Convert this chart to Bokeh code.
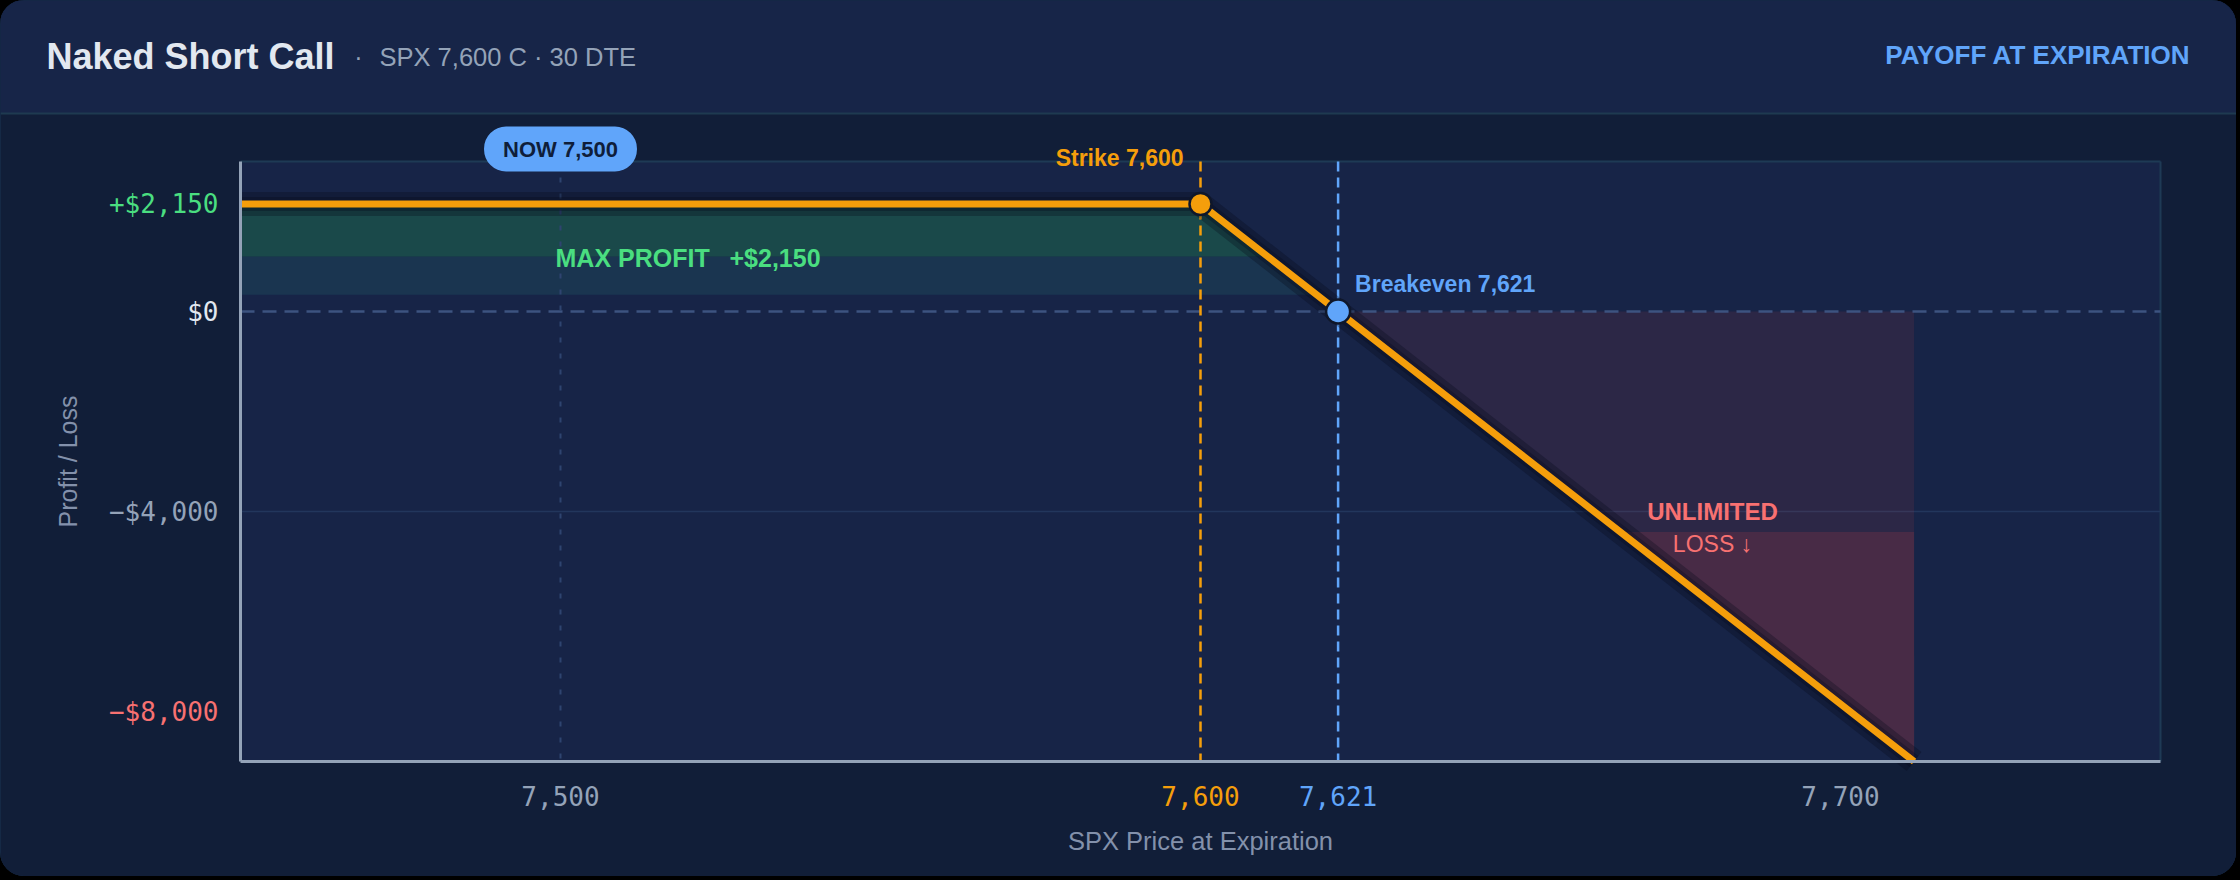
import numpy as np

from bokeh.core.properties import value
from bokeh.embed import file_html
from bokeh.models import FixedTicker, GlobalInlineStyleSheet, Label, LinearAxis, Range1d
from bokeh.plotting import figure
from bokeh.resources import INLINE


# position: naked short call on SPX
SPOT = 7500
STRIKE = 7600
BREAKEVEN = 7621.5
MAX_PROFIT = 2150

# payoff at expiration (price -> P/L in $)
price = [7450, 7600, 7621.5, 7711.5]
pnl = [2150, 2150, 0, -9000]

# tick labels
x_ticks = [7500, 7600, 7621.5, 7700]
x_tick_labels = ["7,500", "7,600", "7,621", "7,700"]
y_ticks = [2150, 0, -4000, -8000]
y_tick_labels = ["+$2,150", "$0", "\u2212$4,000", "\u2212$8,000"]
grid_levels = [-4000]

TITLE = "Naked Short Call"
SUBTITLE = "SPX 7,600 C \u00b7 30 DTE"
BADGE = "PAYOFF AT EXPIRATION"

# visible axis extents
XMIN, XMAX = 7450, 7750
YMIN, YMAX = -9000, 3000

# colours
HEAD_BG = "#172548"
BODY_BG = "#111e38"
PLOT_BG = "#172447"
EDGE = "#1e3a55"
GREY = "#94a3b8"
LABEL_GREY = "#8391ab"
ORANGE = "#f59e0b"
BLUE = "#60a5fa"
GREEN = "#4ade80"
RED = "#f87171"
WHITE = "#e2e8f0"

x_tick_colors = [GREY, ORANGE, BLUE, GREY]
y_tick_colors = [GREEN, WHITE, GREY, RED]

SANS = "Liberation Sans"
MONO = "DejaVu Sans Mono"

# canvas and plot box in pixels
FIG_W, FIG_H = 2236, 876
PLOT_L, PLOT_R, PLOT_T, PLOT_B = 240, 2160, 161, 761
HEAD_H = 113

xpx = (PLOT_R - PLOT_L) / (XMAX - XMIN)
ypx = (PLOT_B - PLOT_T) / (YMAX - YMIN)


# descending part of the payoff, used to clip the shaded areas
seg_x = np.array(price[1:])[::-1]
seg_y = np.array(pnl[1:])[::-1]


def x_at(y):
    return float(np.interp(y, seg_y, seg_x))


p = figure(
    width=FIG_W, height=FIG_H,
    x_range=Range1d(XMIN - PLOT_L / xpx, XMAX + (FIG_W - PLOT_R) / xpx),
    y_range=Range1d(YMIN - (FIG_H - PLOT_B) / ypx, YMAX + PLOT_T / ypx),
    output_backend="svg", toolbar_location=None, tools="",
    min_border=0, min_border_left=0, min_border_right=0, min_border_top=0, min_border_bottom=0,
    background_fill_color=BODY_BG, border_fill_color=BODY_BG, outline_line_color=None,
    styles={"border-radius": "24px", "overflow": "hidden",
            "outline": "2px solid #1b3452", "outline-offset": "-2px"},
    stylesheets=[GlobalInlineStyleSheet(css="body { background: #000; }")],
)
# pixel space for the card decoration
p.extra_x_ranges = {"px": Range1d(0, FIG_W)}
p.extra_y_ranges = {"px": Range1d(FIG_H, 0)}
px = dict(x_range_name="px", y_range_name="px")

# header strip
p.quad(left=[0], right=[FIG_W], top=[0], bottom=[HEAD_H], fill_color=HEAD_BG, line_color=None, **px)
p.segment(x0=[0], y0=[HEAD_H], x1=[FIG_W], y1=[HEAD_H], line_color="#1e3a50", line_width=2, **px)
p.text(x=[46], y=[55.5], text=[TITLE], text_font=value(SANS), text_font_size="36px",
       text_font_style="bold", text_color=WHITE, text_baseline="middle", **px)
p.text(x=[358], y=[56], text=["\u00b7"], text_font=value(SANS), text_font_size="25px",
       text_color=GREY, text_baseline="middle", text_align="center", **px)
p.text(x=[379], y=[56], text=[SUBTITLE], text_font=value(SANS), text_font_size="25.5px",
       text_color=GREY, text_baseline="middle", **px)
p.text(x=[2190], y=[54], text=[BADGE], text_font=value(SANS), text_font_size="26px",
       text_font_style="bold", text_color=BLUE, text_baseline="middle", text_align="right", **px)

# plot box
p.quad(left=[XMIN], right=[XMAX], bottom=[YMIN], top=[YMAX], fill_color=PLOT_BG, line_color=None)
p.segment(x0=[XMIN, XMAX], y0=[YMAX, YMIN], x1=[XMAX, XMAX], y1=[YMAX, YMAX],
          line_color=EDGE, line_width=2)
p.segment(x0=[XMIN] * len(grid_levels), y0=grid_levels, x1=[XMAX] * len(grid_levels), y1=grid_levels,
          line_color="#22365c", line_width=1.5)

# profit zone, banded like the original gradient
gain_bands = [(0.51, 1.0, "#1a494a"), (0.155, 0.51, "#1a3550")]
for lo_f, hi_f, col in gain_bands:
    lo, hi = lo_f * MAX_PROFIT, hi_f * MAX_PROFIT
    p.patch([price[0], price[0], x_at(hi), x_at(lo)], [lo, hi, hi, lo],
            fill_color=col, line_color=None)

# loss zone
worst = min(pnl)
loss_bands = [(0.0, 0.49, 0.10), (0.49, 1.0, 0.23)]
for lo_f, hi_f, alpha in loss_bands:
    top, bot = lo_f * worst, hi_f * worst
    p.patch([x_at(top), price[-1], price[-1], x_at(bot)], [top, top, bot, bot],
            fill_color="#ef4444", fill_alpha=alpha, line_color=None)

# reference lines
p.segment(x0=[XMIN], y0=[0], x1=[XMAX], y1=[0], line_color="#3d5380", line_width=2.5, line_dash="14 8")
p.segment(x0=[SPOT], y0=[YMAX], x1=[SPOT], y1=[YMIN], line_color="#2f4470", line_width=2, line_dash="5 11")
p.segment(x0=[STRIKE], y0=[YMAX], x1=[STRIKE], y1=[YMIN], line_color=ORANGE, line_width=2.5, line_dash="10 6")
p.segment(x0=[BREAKEVEN], y0=[YMAX], x1=[BREAKEVEN], y1=[YMIN], line_color=BLUE, line_width=2.5,
          line_dash="10 6")

# payoff line with a soft dark shadow
p.line(price, pnl, line_color="#060b1a", line_alpha=0.3, line_width=24, line_join="round")
p.line(price, pnl, line_color="#060b1a", line_alpha=0.3, line_width=14, line_join="round")
p.line(price, pnl, line_color=ORANGE, line_width=7, line_join="round")

# strike and breakeven points
p.scatter([price[1]], [pnl[1]], size=22, fill_color=ORANGE, line_color="#0f172a", line_width=2.5)
p.scatter([price[2]], [pnl[2]], size=24, fill_color=BLUE, line_color="#0f172a", line_width=2.5)

# axis titles
p.text(x=[(PLOT_L + PLOT_R) / 2], y=[840], text=["SPX Price at Expiration"], text_font=value(SANS),
       text_font_size="25.5px", text_color=LABEL_GREY, text_align="center", text_baseline="middle", **px)
p.text(x=[67], y=[(PLOT_T + PLOT_B) / 2], text=["Profit / Loss"], text_font=value(SANS),
       text_font_size="25px", text_color=LABEL_GREY, text_align="center", text_baseline="middle",
       angle=np.pi / 2, **px)

# axes, pinned to the plot box; one extra axis per label colour
p.xgrid.visible = False
p.ygrid.visible = False


def style_axis(ax, color, standoff):
    ax.major_tick_line_color = None
    ax.minor_tick_line_color = None
    ax.major_tick_out = 0
    ax.major_tick_in = 0
    ax.major_label_text_font = MONO
    ax.major_label_text_font_size = "26px"
    ax.major_label_text_color = color
    ax.major_label_standoff = standoff


xax = p.xaxis[0]
xax.fixed_location = YMIN
xax.bounds = (XMIN, XMAX)
xax.axis_line_color = GREY
xax.axis_line_width = 3
yax = p.yaxis[0]
yax.fixed_location = XMIN
yax.bounds = (YMIN, YMAX)
yax.axis_line_color = GREY
yax.axis_line_width = 3

for col in dict.fromkeys(x_tick_colors):
    ticks = [t for t, c in zip(x_ticks, x_tick_colors) if c == col]
    labels = {t: s for t, s, c in zip(x_ticks, x_tick_labels, x_tick_colors) if c == col}
    ax = xax if col == GREY else LinearAxis(fixed_location=YMIN, axis_line_color=None)
    ax.ticker = FixedTicker(ticks=ticks)
    ax.major_label_overrides = labels
    style_axis(ax, col, 24)
    if ax is not xax:
        p.add_layout(ax, "below")

for col in dict.fromkeys(y_tick_colors):
    ticks = [t for t, c in zip(y_ticks, y_tick_colors) if c == col]
    labels = {t: s for t, s, c in zip(y_ticks, y_tick_labels, y_tick_colors) if c == col}
    ax = yax if col == GREY else LinearAxis(fixed_location=XMIN, axis_line_color=None)
    ax.ticker = FixedTicker(ticks=ticks)
    ax.major_label_overrides = labels
    style_axis(ax, col, 22)
    if ax is not yax:
        p.add_layout(ax, "left")

# annotations
p.add_layout(Label(x=SPOT, y=YMAX, y_offset=12.5, text=f"NOW {SPOT:,}",
                   text_align="center", text_baseline="middle", text_font=SANS,
                   text_font_size="22px", text_font_style="bold", text_color="#0f1e3a",
                   background_fill_color=BLUE, border_radius=22, padding=(19, 10)))
p.add_layout(Label(x=STRIKE, y=YMAX, x_offset=-17, y_offset=4, text=f"Strike {STRIKE:,}",
                   text_align="right", text_baseline="middle", text_font=SANS,
                   text_font_size="23px", text_font_style="bold", text_color=ORANGE))
p.add_layout(Label(x=BREAKEVEN, y=0, x_offset=17, y_offset=28, text=f"Breakeven {int(BREAKEVEN):,}",
                   text_align="left", text_baseline="middle", text_font=SANS,
                   text_font_size="23px", text_font_style="bold", text_color=BLUE))
p.add_layout(Label(x=SPOT, y=MAX_PROFIT / 2, x_offset=-5, text="MAX PROFIT",
                   text_align="left", text_baseline="middle", text_font=SANS,
                   text_font_size="25px", text_font_style="bold", text_color=GREEN))
p.add_layout(Label(x=SPOT, y=MAX_PROFIT / 2, x_offset=169, text=f"+${MAX_PROFIT:,}",
                   text_align="left", text_baseline="middle", text_font=SANS,
                   text_font_size="25px", text_font_style="bold", text_color=GREEN))
p.add_layout(Label(x=7680, y=-4000, text="UNLIMITED", text_align="center", text_baseline="middle",
                   text_font=SANS, text_font_size="24px", text_font_style="bold", text_color=RED))
p.add_layout(Label(x=7680, y=-4000, y_offset=-32, text="LOSS \u2193", text_align="center",
                   text_baseline="middle", text_font=SANS, text_font_size="23px", text_color=RED))

open("out.html", "w").write(file_html(p, INLINE))
